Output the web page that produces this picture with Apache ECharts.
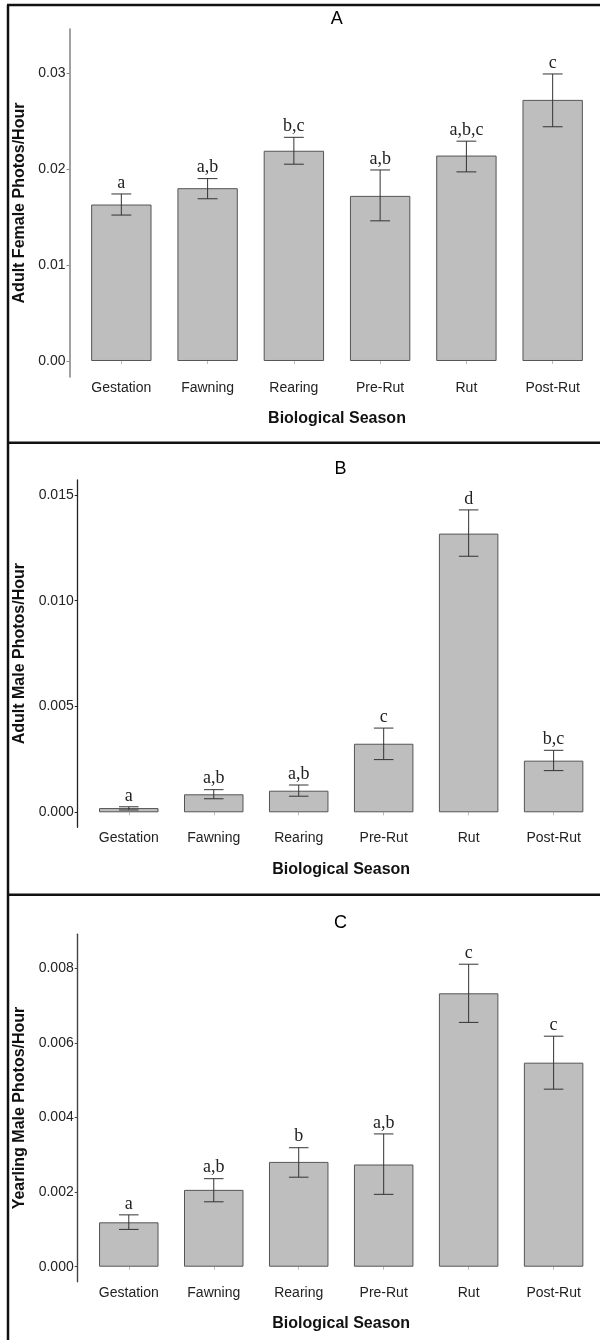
<!DOCTYPE html>
<html>
<head>
<meta charset="utf-8">
<script src="https://cdn.jsdelivr.net/npm/echarts@6/dist/echarts.min.js"></script>
<style>html,body{margin:0;padding:0;background:#fff}#c{width:600px;height:1340px}</style>
</head>
<body>
<div id="c"></div>
<script>
const categories = ['Gestation', 'Fawning', 'Rearing', 'Pre-Rut', 'Rut', 'Post-Rut'];

const femaleMean  = [0.0163, 0.0180, 0.0219, 0.0172, 0.0214, 0.0272];
const femaleUpper = [0.0174, 0.0190, 0.0233, 0.0199, 0.0229, 0.0299];
const femaleLower = [0.0152, 0.0169, 0.0205, 0.0146, 0.0197, 0.0244];
const femaleLetters = ['a', 'a,b', 'b,c', 'a,b', 'a,b,c', 'c'];
const femaleTicks = [0, 0.01, 0.02, 0.03];

const maleMean  = [0.00020, 0.00085, 0.00102, 0.00324, 0.01317, 0.00244];
const maleUpper = [0.00026, 0.00107, 0.00129, 0.00398, 0.01429, 0.00293];
const maleLower = [0.00011, 0.00064, 0.00076, 0.00249, 0.01210, 0.00197];
const maleLetters = ['a', 'a,b', 'a,b', 'c', 'd', 'b,c'];
const maleTicks = [0, 0.005, 0.010, 0.015];

const yearMean  = [0.00119, 0.00206, 0.00281, 0.00274, 0.00733, 0.00547];
const yearUpper = [0.00139, 0.00236, 0.00319, 0.00356, 0.00811, 0.00618];
const yearLower = [0.00100, 0.00174, 0.00240, 0.00194, 0.00655, 0.00476];
const yearLetters = ['a', 'a,b', 'b', 'a,b', 'c', 'c'];
const yearTicks = [0, 0.002, 0.004, 0.006, 0.008];

const SANS = 'Liberation Sans, Arial, sans-serif';
const SERIF = 'Liberation Serif, Times New Roman, serif';

const panels = [
  {mean: femaleMean, up: femaleUpper, lo: femaleLower, letters: femaleLetters, ticks: femaleTicks,
   yName: 'Adult Female Photos/Hour', dec: 2,
   grid: {left: 78.2, width: 517.6, top: 29, height: 348}, min: -0.001667, max: 0.034583,
   offset: 8.7, axisColor: '#8a8a8a', axisWidth: 1.6},
  {mean: maleMean, up: maleUpper, lo: maleLower, letters: maleLetters, ticks: maleTicks,
   yName: 'Adult Male Photos/Hour', dec: 3,
   grid: {left: 86.3, width: 509.8, top: 480, height: 347.3}, min: -0.000709, max: 0.015704,
   offset: 8.6, axisColor: '#222', axisWidth: 1.3},
  {mean: yearMean, up: yearUpper, lo: yearLower, letters: yearLetters, ticks: yearTicks,
   yName: 'Yearling Male Photos/Hour', dec: 3,
   grid: {left: 86.3, width: 509.8, top: 934.3, height: 347.4}, min: -0.000402, max: 0.008912,
   offset: 8.6, axisColor: '#444', axisWidth: 1.4}
];

const grid = [], xAxis = [], yAxis = [], series = [];
panels.forEach((p, i) => {
  grid.push(Object.assign({containLabel: false}, p.grid));
  xAxis.push({
    type: 'category', gridIndex: i, data: categories,
    axisLine: {show: false},
    axisTick: {show: true, alignWithLabel: true, length: 3, lineStyle: {color: '#bbb', width: 1}},
    axisLabel: {color: '#222', fontFamily: SANS, fontSize: 14, margin: 4},
    name: 'Biological Season', nameLocation: 'middle', nameGap: 34,
    nameTextStyle: {color: '#111', fontFamily: SANS, fontSize: 16, fontWeight: 'bold'}
  });
  yAxis.push({
    type: 'value', gridIndex: i, min: p.min, max: p.max, offset: p.offset,
    splitLine: {show: false},
    axisLine: {show: true, lineStyle: {color: p.axisColor, width: p.axisWidth}},
    axisTick: {show: true, length: 3, customValues: p.ticks, lineStyle: {color: p.axisColor}},
    axisLabel: {show: true, customValues: p.ticks, color: '#222', fontFamily: SANS, fontSize: 14, margin: 4,
      formatter: v => Number(v).toFixed(p.dec)},
    name: p.yName, nameLocation: 'middle', nameRotate: 90, nameGap: 37,
    nameTextStyle: {color: '#111', fontFamily: SANS, fontSize: 16, fontWeight: 'bold'}
  });
  series.push({
    type: 'bar', xAxisIndex: i, yAxisIndex: i, data: p.mean, barWidth: '70%',
    itemStyle: {color: '#bebebe', borderColor: '#555', borderWidth: 1},
    silent: true
  });
  series.push({
    type: 'custom', xAxisIndex: i, yAxisIndex: i,
    data: categories.map((c, k) => [k, p.lo[k], p.up[k]]),
    encode: {x: 0, y: [1, 2]},
    z: 5, silent: true,
    renderItem: (params, api) => {
      const x = api.value(0);
      const a = api.coord([x, api.value(1)]);
      const b = api.coord([x, api.value(2)]);
      const w = api.size([1, 0])[0] * 0.23 / 2;
      const st = {stroke: '#333', lineWidth: 1};
      return {type: 'group', children: [
        {type: 'line', shape: {x1: a[0], y1: a[1], x2: b[0], y2: b[1]}, style: st},
        {type: 'line', shape: {x1: b[0] - w, y1: b[1], x2: b[0] + w, y2: b[1]}, style: st},
        {type: 'line', shape: {x1: a[0] - w, y1: a[1], x2: a[0] + w, y2: a[1]}, style: st},
        {type: 'text', x: b[0], y: b[1] - 2, style: {text: p.letters[params.dataIndex], fill: '#222',
          font: '18px ' + SERIF, align: 'center', verticalAlign: 'bottom'}}
      ]};
    }
  });
});

const titles = [['A', 336.8, 19], ['B', 340.6, 469], ['C', 340.6, 923.3]];
const graphic = titles.map(t => ({type: 'text', x: t[1], y: t[2],
  style: {text: t[0], fill: '#000', font: '18px ' + SANS, align: 'center', verticalAlign: 'middle'}}));
const border = {stroke: '#111', lineWidth: 2.5};
[[7, 5, 600, 5], [8, 5, 8, 1340], [7, 442.7, 600, 442.7], [7, 894.7, 600, 894.7]].forEach(l => {
  graphic.push({type: 'line', shape: {x1: l[0], y1: l[1], x2: l[2], y2: l[3]}, style: border, silent: true});
});

const chart = echarts.init(document.getElementById('c'), null, {renderer: 'canvas'});
chart.setOption({animation: false, backgroundColor: '#fff', grid, xAxis, yAxis, series, graphic});
</script>
</body>
</html>
